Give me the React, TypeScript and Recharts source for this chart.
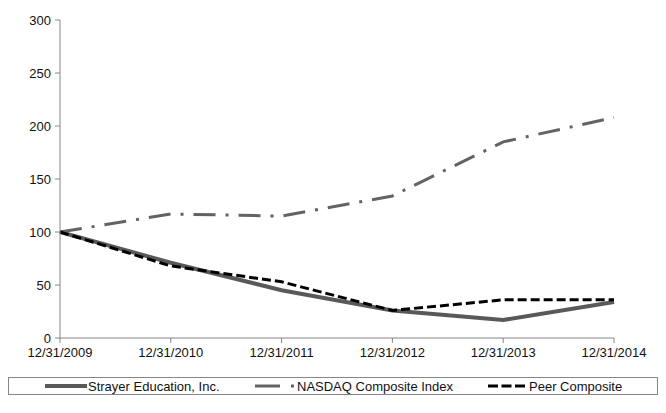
import { LineChart, Line, XAxis, YAxis } from 'recharts'

const dates = ['12/31/2009', '12/31/2010', '12/31/2011', '12/31/2012', '12/31/2013', '12/31/2014']
const strayer = [100, 71, 45, 26, 17, 34]
const nasdaq = [100, 117, 115, 134, 185, 208]
const peer = [100, 68, 53, 26, 36, 36]
const yTicks = [0, 50, 100, 150, 200, 250, 300]

const data = dates.map((d, i) => ({ date: d, strayer: strayer[i], nasdaq: nasdaq[i], peer: peer[i] }))

const font = '"Liberation Sans", Arial, sans-serif'

export default function App() {
  return (
    <div style={{ position: 'absolute', left: 0, top: 0, width: 666, height: 413, background: '#fff', fontFamily: font }}>
      <LineChart width={666} height={413} data={data} margin={{ top: 20, right: 52, left: 10, bottom: 45 }}>
        <XAxis
          dataKey="date"
          height={30}
          padding={{ left: 0, right: 0 }}
          tick={{ fill: '#111', fontSize: 13, fontFamily: font }}
          axisLine={{ stroke: '#868686' }}
          tickLine={{ stroke: '#868686' }}
          tickSize={5}
          tickMargin={5}
          interval={0}
        />
        <YAxis
          domain={[0, 300]}
          ticks={yTicks}
          width={50}
          tick={{ fill: '#111', fontSize: 13, fontFamily: font }}
          axisLine={{ stroke: '#868686' }}
          tickLine={{ stroke: '#868686' }}
          tickSize={5}
          tickMargin={4}
        />
        <Line dataKey="strayer" stroke="#595959" strokeWidth={4} dot={false} isAnimationActive={false} />
        <Line dataKey="nasdaq" stroke="#636363" strokeWidth={3} strokeDasharray="22 10 3 10" dot={false} isAnimationActive={false} />
        <Line dataKey="peer" stroke="#000" strokeWidth={3} strokeDasharray="9 4" dot={false} isAnimationActive={false} />
      </LineChart>
      <div style={{ position: 'absolute', left: 8, top: 377, width: 650, height: 18, border: '1px solid #868686', boxSizing: 'border-box' }}>
        <svg width={650} height={18} style={{ position: 'absolute', left: -1, top: -1 }}>
          <line x1={37} x2={79} y1={9} y2={9} stroke="#595959" strokeWidth={4} />
          <text x={80} y={14} fontSize={13} fontFamily={font} fill="#111">Strayer Education, Inc.</text>
          <line x1={247} x2={272} y1={9} y2={9} stroke="#636363" strokeWidth={3} />
          <line x1={283} x2={286} y1={9} y2={9} stroke="#636363" strokeWidth={3} />
          <text x={289} y={14} fontSize={13} fontFamily={font} fill="#111">NASDAQ Composite Index</text>
          <line x1={480} x2={517} y1={9} y2={9} stroke="#000" strokeWidth={3} strokeDasharray="10 3.5" />
          <text x={521} y={14} fontSize={13} fontFamily={font} fill="#111">Peer Composite</text>
        </svg>
      </div>
    </div>
  )
}
